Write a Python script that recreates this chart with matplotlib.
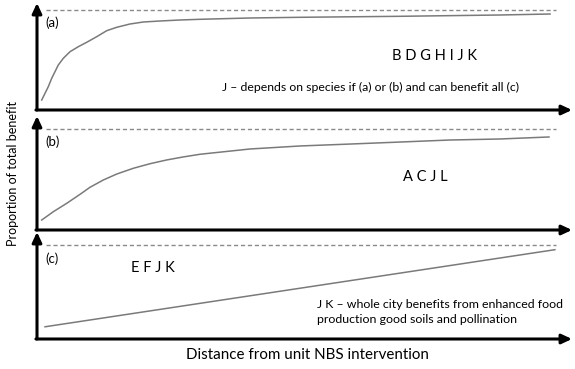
import matplotlib
matplotlib.use("Agg")
import matplotlib.pyplot as plt

# ---- data (distance 0-100, proportion of total benefit, 1 = max) ----
dist_a = [0.88, 1.50, 2.11, 2.75, 3.36, 3.98, 4.92, 6.17, 7.72, 9.29, 11.16, 13.03,
          14.9, 17.38, 19.87, 22.99, 26.73, 30.47, 39.8, 49.2, 67.9, 86.5, 95.9]
prop_a = [0.10, 0.167, 0.233, 0.317, 0.383, 0.45, 0.517, 0.583, 0.633, 0.677, 0.733, 0.793,
          0.827, 0.86, 0.88, 0.89, 0.90, 0.907, 0.92, 0.927, 0.937, 0.95, 0.96]

dist_b = [0.88, 3.05, 5.55, 8.04, 9.91, 12.39, 14.9, 18.0, 21.1, 24.2, 27.3, 30.5,
          39.8, 49.2, 58.5, 67.9, 77.2, 86.5, 95.7]
prop_b = [0.099, 0.181, 0.264, 0.353, 0.423, 0.495, 0.554, 0.611, 0.656, 0.693, 0.723, 0.750,
          0.802, 0.832, 0.851, 0.871, 0.891, 0.901, 0.921]

dist_c = [1.5, 96.8]
prop_c = [0.13, 0.95]

max_line = [1.7, 97.0]
panel_labels = ["(a)", "(b)", "(c)"]
panel_groups = ["B D G H I J K", "A C J L", "E F J K"]
note_a = "J \u2013 depends on species if (a) or (b) and can benefit all (c)"
note_c = "J K \u2013 whole city benefits from enhanced food\nproduction good soils and pollination"
xlabel = "Distance from unit NBS intervention"
ylabel = "Proportion of total benefit"

W, H = 575, 369
fig = plt.figure(figsize=(W / 100, H / 100), dpi=100)
plt.rcParams['font.family'] = ['Lato', 'DejaVu Sans']

def fx(px):
    return px / W

def fy(py):
    return 1 - py / H

# panel pixel geometry: (top, bottom)
geom = [(3, 110), (116, 230), (232, 339)]
left, right = 37, 572
curves = [(dist_a, prop_a), (dist_b, prop_b), (dist_c, prop_c)]
dash_y = [10, 129, 245]

arrow = dict(arrowstyle='-|>,head_length=0.6,head_width=0.28',
             lw=2.2, color='black', shrinkA=0, shrinkB=0)

for i, (top, bot) in enumerate(geom):
    ax = fig.add_axes([fx(left), fy(bot), fx(right) - fx(left), (bot - top) / H])
    unit = bot - dash_y[i]
    ax.set_xlim(0, 100)
    ax.set_ylim(0, (bot - top) / unit)
    ax.axis('off')
    ax.patch.set_alpha(0)
    ax.annotate("", xy=(0, 1), xytext=(0, 0), xycoords='axes fraction', arrowprops=arrow)
    ax.annotate("", xy=(1, 0), xytext=(-0.002, 0), xycoords='axes fraction', arrowprops=arrow)
    ax.plot(max_line, [1, 1], color='#8a8a8a', lw=1.0, ls=(0, (3, 2)))
    d, p = curves[i]
    ax.plot(d, p, color='#7a7a7a', lw=1.1, solid_joinstyle='round')

# panel labels
fig.text(fx(45), fy(23), panel_labels[0], fontsize=9.5, ha='left', va='center')
fig.text(fx(45), fy(142), panel_labels[1], fontsize=9.5, ha='left', va='center')
fig.text(fx(45), fy(259), panel_labels[2], fontsize=9.5, ha='left', va='center')

fig.text(fx(435), fy(56), panel_groups[0], fontsize=10.5, ha='center', va='center')
fig.text(fx(425), fy(177), panel_groups[1], fontsize=10.5, ha='center', va='center')
fig.text(fx(153), fy(268), panel_groups[2], fontsize=10.5, ha='center', va='center')

fig.text(fx(222), fy(87), note_a, fontsize=8.8, ha='left', va='center')
fig.text(fx(317), fy(312), note_c, fontsize=8.9, ha='left', va='center', linespacing=1.4)

fig.text(fx(307), fy(355), xlabel, fontsize=10.9, ha='center', va='center')
fig.text(fx(13), fy(174), ylabel, fontsize=9.0, ha='center', va='center', rotation=90)

fig.savefig("out.png", dpi=100)
